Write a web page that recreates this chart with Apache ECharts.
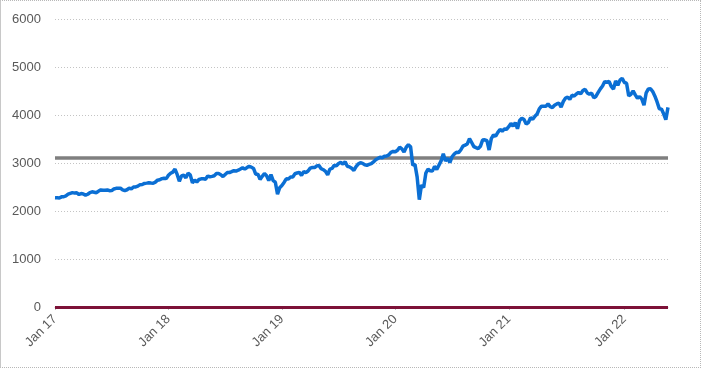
<!DOCTYPE html>
<html>
<head>
<meta charset="utf-8">
<script src="https://cdn.jsdelivr.net/npm/echarts@6/dist/echarts.min.js"></script>
<style>
html,body{margin:0;padding:0;background:#fff;}
#wrap{width:701px;height:368px;box-sizing:border-box;border:1px dotted #b8b8b8;border-left:1px solid #c8c8c8;}
#c{width:699px;height:366px;}
</style>
</head>
<body>
<div id="wrap"><div id="c"></div></div>
<script>
// Weekly closes (Fridays)
const spx2017 = [2277,2275,2271,2295, 2297,2316,2351,2367, 2383,2373,2378,2344,2363, 2355,2329,2349,2384, 2399,2391,2381,2416, 2439,2432,2433,2438,2423, 2425,2459,2472,2473, 2476,2441,2426,2443, 2477,2461,2500,2502,2519, 2549,2553,2575,2581, 2588,2582,2579,2602, 2642,2652,2675,2683,2674];
const spx2018 = [2743,2786,2810,2873, 2762,2620,2732,2747, 2691,2786,2752,2588,2641, 2604,2656,2670,2670, 2663,2728,2713,2721, 2735,2779,2780,2755,2718, 2760,2801,2802,2819, 2840,2833,2850,2875,2902, 2872,2905,2930,2914, 2886,2767,2768,2658, 2723,2781,2736,2633,2760, 2633,2600,2351,2486];
const spx2019 = [2532,2596,2671,2665, 2707,2708,2776,2793, 2804,2743,2822,2801,2834, 2893,2907,2905,2940, 2946,2881,2860,2826,2752, 2873,2887,2951,2942, 2990,3014,2977,3026, 2932,2919,2889,2847,2926, 2979,3007,2992,2962, 2952,2970,2986,3023, 3067,3093,3120,3110,3141, 3146,3169,3221,3240];
const spx2020 = [3235,3265,3330,3295,3226, 3328,3380,3338,2954, 2972,2711,2237,2541, 2489,2790,2875,2837, 2831,2930,2864,2955,3044, 3194,3041,3098,3009, 3130,3185,3225,3216,3271, 3351,3373,3397,3508, 3427,3341,3319,3298, 3348,3477,3484,3465,3270, 3509,3585,3558,3638, 3699,3663,3709,3703];
const spx2021 = [3756,3825,3768,3841,3714, 3887,3935,3907,3811, 3842,3943,3913,3975, 4020,4129,4185,4180,4181, 4233,4174,4156,4204, 4230,4247,4166,4281, 4352,4370,4327,4412,4395, 4437,4468,4442,4509, 4535,4459,4433,4455, 4357,4391,4471,4545,4605, 4697,4682,4698,4595, 4538,4712,4621,4726,4766];
const spx2022 = [4677,4663,4398,4432, 4501,4419,4349,4385, 4329,4204,4463,4543, 4546,4488,4393,4272,4132, 4123,4024,3901,4158];
const referenceLevel = 3100;
const zeroLevel = 0;
const yTicks = [0,1000,2000,3000,4000,5000,6000];
const startDate = '2017-01-06';

const values = [].concat(spx2017, spx2018, spx2019, spx2020, spx2021, spx2022);
const categories = [];
{
  const d0 = Date.parse(startDate + 'T00:00:00Z');
  for (let i = 0; i < values.length; i++) {
    categories.push(new Date(d0 + i * 7 * 86400000).toISOString().slice(0, 10));
  }
}
function isYearStart(idx) {
  return idx === 0 || categories[idx].slice(0, 4) !== categories[idx - 1].slice(0, 4);
}

const chart = echarts.init(document.getElementById('c'), null, {renderer: 'canvas'});
chart.setOption({
  animation: false,
  grid: {left: 54, right: 32, top: 18, bottom: 60, containLabel: false},
  xAxis: {
    type: 'category',
    data: categories,
    boundaryGap: false,
    axisLine: {show: true, lineStyle: {color: '#bfbfbf', width: 1}},
    axisTick: {show: true, interval: (i) => isYearStart(i), length: 3, lineStyle: {color: '#bfbfbf'}},
    axisLabel: {
      interval: (i) => isYearStart(i),
      rotate: 45,
      margin: 10,
      color: '#595959',
      fontFamily: 'Liberation Sans',
      fontSize: 13,
      formatter: (v) => 'Jan ' + v.slice(2, 4)
    },
    splitLine: {show: false}
  },
  yAxis: {
    type: 'value',
    min: yTicks[0],
    max: yTicks[yTicks.length - 1],
    interval: 1000,
    axisLine: {show: false},
    axisTick: {show: false},
    axisLabel: {color: '#595959', fontFamily: 'Liberation Sans', fontSize: 13, margin: 14, formatter: (v) => String(v)},
    splitLine: {show: true, lineStyle: {color: '#c4c4c4', type: [1, 2], width: 1}}
  },
  series: [{
    type: 'line',
    data: values,
    showSymbol: false,
    smooth: false,
    lineStyle: {color: '#0b6fd4', width: 3.5},
    itemStyle: {color: '#0b6fd4'},
    z: 3,
    markLine: {
      silent: true,
      symbol: 'none',
      label: {show: false},
      z: 2,
      data: [
        {yAxis: referenceLevel, lineStyle: {color: '#7f7f7f', width: 3.5, type: 'solid'}},
        {yAxis: zeroLevel, lineStyle: {color: '#7d1238', width: 3, type: 'solid'}}
      ]
    }
  }]
});
</script>
</body>
</html>
